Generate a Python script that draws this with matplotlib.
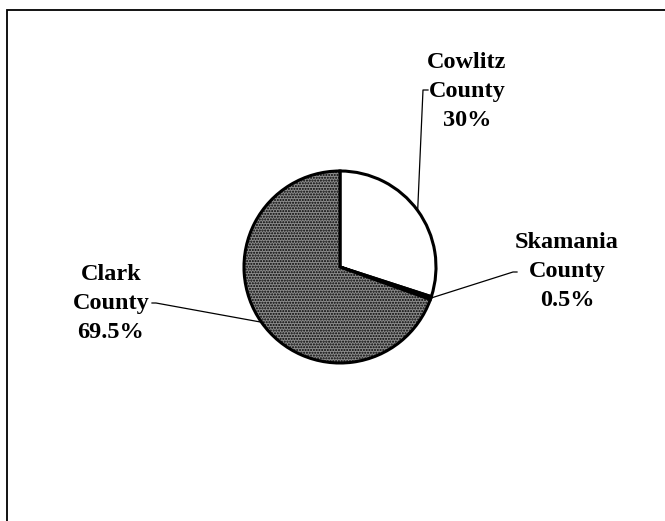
import numpy as np
import matplotlib
matplotlib.use("Agg")
import matplotlib.pyplot as plt
from matplotlib.patches import Rectangle

# share of the total by county
counties = ["Cowlitz\nCounty", "Skamania\nCounty", "Clark\nCounty"]
shares = [30, 0.5, 69.5]
share_text = ["30%", "0.5%", "69.5%"]
colors = ["white", "black", "#8c8c8c"]

plt.rcParams["hatch.color"] = "#5a5a5a"

W, H = 665, 521
fig = plt.figure(figsize=(W / 100, H / 100), dpi=100)
ax = fig.add_axes([0, 0, 1, 1])

cx, cy, R = 340, H - 267, 96
wedges, _ = ax.pie(shares, colors=colors, startangle=90, counterclock=False,
                   center=(cx, cy), radius=R, frame=True,
                   wedgeprops=dict(edgecolor="black", linewidth=2.2))
wedges[2].set_hatch("......")
ax.set_xlim(0, W)
ax.set_ylim(0, H)
ax.axis("off")

# label positions and leader elbow points (pixels from the top-left)
label_xy = [(467, 92), (567, 272), (111, 303)]
elbows = [[(428, 90), (423, 90)], [(517, 272), (513, 272)], [(152, 303), (156, 303)]]

font = dict(family="Liberation Serif", weight="bold", size=17.5)
for w, name, pct, (lx, ly), elbow in zip(wedges, counties, share_text, label_xy, elbows):
    mid = np.deg2rad((w.theta1 + w.theta2) / 2)
    ex, ey = cx + R * np.cos(mid), cy + R * np.sin(mid)
    pts = [(x, H - y) for x, y in elbow] + [(ex, ey)]
    xs, ys = zip(*pts)
    ax.plot(xs, ys, color="black", lw=0.9, zorder=0.5)
    ax.text(lx, H - ly, name + "\n" + pct, ha="center", va="center",
            linespacing=1.5, **font)

# chart area border
fig.patches.append(Rectangle((7 / W, -0.1), 1.2, 1.1 - 10 / H, transform=fig.transFigure,
                             fill=False, edgecolor="black", linewidth=1.3))

fig.savefig("out.png", dpi=100, facecolor="white")
